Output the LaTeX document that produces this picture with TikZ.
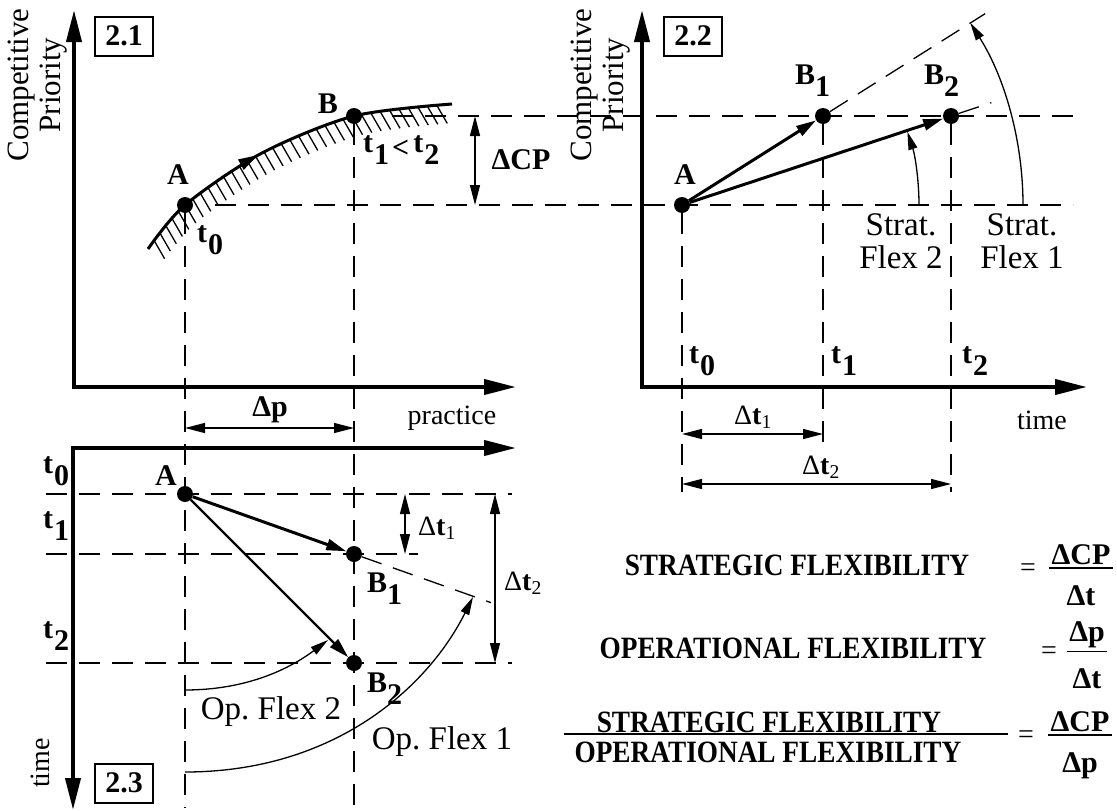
\documentclass[tikz,border=0pt]{standalone}
\usepackage{fontspec}
\setmainfont{Liberation Serif}
\newfontfamily\condfont[FakeStretch=0.88]{Liberation Serif}
\usetikzlibrary{positioning,arrows.meta,calc,decorations.markings}

\newcommand{\low}[1]{\raisebox{-12pt}{#1}}
\newcommand{\tlab}[1]{t\kern1pt\low{#1}}
\newcommand{\dtlab}[1]{Δ\textbf{t}\textsubscript{#1}}
\frenchspacing

\begin{document}
\begin{tikzpicture}[
  x=1pt, y=-1pt,
  >={Triangle[length=20pt, width=10pt]},
  axis/.style={line width=4pt, arrows={Triangle[length=32pt,width=15pt]-Triangle[length=32pt,width=15pt]}},
  curve/.style={line width=3pt},
  guide/.style={line width=1.3pt, dash pattern=on 21pt off 12pt},
  dim/.style={line width=1.3pt, <->},
  vec/.style={line width=3pt, -{Triangle[length=20pt,width=11pt]}},
  flex/.style={line width=1.3pt, -{Triangle[length=18pt,width=9pt]}},
  bar/.style={line width=1.6pt},
  dot/.style={circle, fill, inner sep=0pt, minimum size=16pt},
  tag/.style={draw, line width=2pt, minimum width=58pt, minimum height=39pt,
              inner sep=0pt, font=\fontsize{30}{30}\selectfont\bfseries},
  lbl/.style={inner sep=0pt, font=\fontsize{30}{32}\selectfont\bfseries},
  txt/.style={inner sep=0pt, align=center, font=\fontsize{33}{33}\selectfont},
  small/.style={inner sep=0pt, font=\fontsize{28}{30}\selectfont},
  capt/.style={inner sep=0pt, font=\condfont\bfseries\fontsize{31}{33}\selectfont},
  flbl/.style={inner xsep=2pt, inner ysep=3pt, font=\fontsize{30}{32}\selectfont\bfseries},
  node distance=14pt
]
  \useasboundingbox (0,0) rectangle (1117,811);

  % axes
  \coordinate (y1) at (74,10);   \coordinate (x1) at (516,387);
  \coordinate (y2) at (642,10);  \coordinate (x2) at (1087,387);
  \coordinate (x3) at (516,448); \coordinate (y3) at (73,810);
  \draw[axis] (y1) |- (x1);
  \draw[axis] (y2) |- (x2);
  \draw[axis] (x3) -| (y3);

  \node[tag] (box1) at (124,36) {2.1};
  \node[tag] (box2) at (693,36) {2.2};
  \node[tag] (box3) at (124,783) {2.3};

  \node[txt, rotate=90, font=\fontsize{31}{32}\selectfont] (cp1) at (38,85) {Competitive\\Priority};
  \node[txt, rotate=90, font=\fontsize{31}{32}\selectfont] (cp2) at (601,85) {Competitive\\Priority};
  \node[small, rotate=90] (tm3) at (40,763) {time};
  \node[small] (pr) at (452,418) {practice};
  \node[small] (tm2) at (1042,420) {time};

  % points
  \node[dot] (ptA) at (185,205) {};
  \node[dot] (ptB) at (354,116) {};
  \node[dot] (spA) at (682,205) {};
  \node[dot] (spB1) at (823,116) {};
  \node[dot] (spB2) at (951,116) {};
  \node[dot] (opA) at (185,494) {};
  \node[dot] (opB1) at (354,554) {};
  \node[dot] (opB2) at (354,663) {};

  % 2.1 frontier curve
  \coordinate (c0) at (148,249);
  \coordinate (c1) at (262,153);
  \coordinate (c2) at (452,104);
  \draw[curve,
    postaction={decorate, decoration={markings,
      mark=between positions 0.03 and 0.97 step 9.5pt with
        {\pgftransformresetnontranslations \draw[line width=1.3pt] (0,0) -- (-60:21pt);}}},
    postaction={decorate, decoration={markings,
      mark=at position 0.42 with {\arrow{Triangle[length=20pt,width=11pt]}}}}]
    plot[smooth] coordinates {(c0) (ptA) (c1) (ptB) (c2)};

  % guides
  \coordinate (hb0) at (392,116);  \coordinate (hb1) at (1075,116);
  \coordinate (ha0) at (215,205);  \coordinate (ha1) at (1073,205);
  \draw[guide] (hb0) -- (hb1);
  \draw[guide] (ha0) -- (ha1);
  \draw[guide] (ptA) -- (ptA |- 0,808);
  \draw[guide] (ptB) -- (ptB |- 0,808);
  \draw[guide] (spA) -- (spA |- 0,492);
  \draw[guide] (spB1) -- (spB1 |- 0,443);
  \draw[guide] (spB2) -- (spB2 |- 0,492);
  \draw[guide] (opA -| 46,0) -- (opA -| 512,0);
  \draw[guide] (opB1 -| 46,0) -- (opB1 -| 418,0);
  \draw[guide] (opB2 -| 46,0) -- (opB2 -| 512,0);
  \draw[guide] (spB1) -- ($(spA)!2.15!(spB1)$);
  \draw[guide] (spB2) -- ($(spA)!1.15!(spB2)$);
  \draw[guide] (opB1) -- ($(opA)!1.81!(opB1)$);

  % vectors
  \draw[vec] (spA) -- (spB1);
  \draw[vec] (spA) -- (spB2);
  \draw[vec] (opA) -- (opB1);
  \draw[vec, line width=2.3pt] (opA) -- (opB2);

  % dimensions
  \draw[dim] (ptB -| 475,0) -- (ptA -| 475,0);
  \draw[dim] (ptA |- 0,428) -- (ptB |- 0,428);
  \draw[dim] (spA |- 0,434) -- (spB1 |- 0,434);
  \draw[dim] (spA |- 0,484) -- (spB2 |- 0,484);
  \draw[dim] (opA -| 405,0) -- (opB1 -| 405,0);
  \draw[dim] (opA -| 495,0) -- (opB2 -| 495,0);

  % flexibility arcs
  \coordinate (sf2s) at ($(spA)+(237,0)$);
  \coordinate (sf1s) at ($(spA)+(341,0)$);
  \draw[flex] (sf2s) arc[start angle=0, end angle=-18, radius=237];
  \draw[flex] (sf1s) arc[start angle=0, end angle=-32.3, radius=341];
  \coordinate (of2s) at (185,690); \coordinate (of2e) at (328,640);
  \coordinate (of1s) at (185,772); \coordinate (of1e) at (473,597);
  \draw[flex] (of2s) .. controls +(60,0) and +(-40,30) .. (of2e);
  \draw[flex] (of1s) .. controls +(150,0) and +(-45,90) .. (of1e);

  % labels 2.1
  \node[lbl] (lA1) at (178,175) {A};
  \node[lbl] (lB1) at (328,104) {B};
  \node[lbl, anchor=base west] (lt0a) at (197,242) {\tlab{0}};
  \node[lbl, anchor=base west] (lt12) at (363,152) {\tlab{1}\kern3pt\raisebox{-5pt}{<}\kern4pt\tlab{2}};
  \node[lbl] (ldcp) at (521,160) {ΔCP};
  \node[lbl] (ldp) at (270,410) {Δp};

  % labels 2.2
  \node[lbl] (lA2) at (685,175) {A};
  \node[lbl, anchor=base west] (lB21) at (795,84) {B\low{1}};
  \node[lbl, anchor=base west] (lB22) at (924,84) {B\low{2}};
  \node[lbl, anchor=base west] (lt0b) at (689,363) {\tlab{0}};
  \node[lbl, anchor=base west] (lt1b) at (831,363) {\tlab{1}};
  \node[lbl, anchor=base west] (lt2b) at (962,363) {\tlab{2}};
  \node[small] (ldt1b) at (753,417) {\dtlab{1}};
  \node[small] (ldt2b) at (821,467) {\dtlab{2}};
  \node[txt] (sf2) at (901,241) {Strat.\\Flex 2};
  \node[txt] (sf1) at (1022,241) {Strat.\\Flex 1};

  % labels 2.3
  \node[lbl] (lA3) at (166,476) {A};
  \node[lbl, anchor=base west] (lB31) at (367,592) {B\low{1}};
  \node[lbl, anchor=base west] (lB32) at (367,692) {B\low{2}};
  \node[lbl, anchor=base west] (lt0c) at (43,473) {\tlab{0}};
  \node[lbl, anchor=base west] (lt1c) at (43,528) {\tlab{1}};
  \node[lbl, anchor=base west] (lt2c) at (43,638) {\tlab{2}};
  \node[small, anchor=west] (ldt1c) at (418,528) {\dtlab{1}};
  \node[small, anchor=west] (ldt2c) at (504,583) {\dtlab{2}};
  \node[txt] (of2) at (271,712) {Op. Flex 2};
  \node[txt] (of1) at (442,742) {Op. Flex 1};

  % definitions
  \node[capt] (sflex) at (797,565) {STRATEGIC FLEXIBILITY};
  \node[small] (eq1) at (1028,570) {=};
  \node[flbl] (n1) at (1081,555) {ΔCP};
  \node[flbl, below=of n1] (d1) {Δt};
  \draw[bar] (n1.south west) -- (n1.south east);

  \node[capt] (oflex) at (793,648) {OPERATIONAL FLEXIBILITY};
  \node[small] (eq2) at (1049,653) {=};
  \node[flbl] (n2) at (1087,635) {Δp};
  \node[flbl, below=of n2] (d2) {Δt};
  \draw[bar] (n2.south west) -- (n2.south east);

  \node[capt] (rnum) at (769,722) {STRATEGIC FLEXIBILITY};
  \node[capt] (rden) at (768,752) {OPERATIONAL FLEXIBILITY};
  \coordinate (barL) at (564,734); \coordinate (barR) at (1008,734);
  \draw[bar] (barL) -- (barR);
  \node[small] (eq3) at (1026,737) {=};
  \node[flbl] (n3) at (1080,722) {ΔCP};
  \node[flbl, below=of n3] (d3) {Δp};
  \draw[bar] (n3.south west) -- (n3.south east);
\end{tikzpicture}
\end{document}
